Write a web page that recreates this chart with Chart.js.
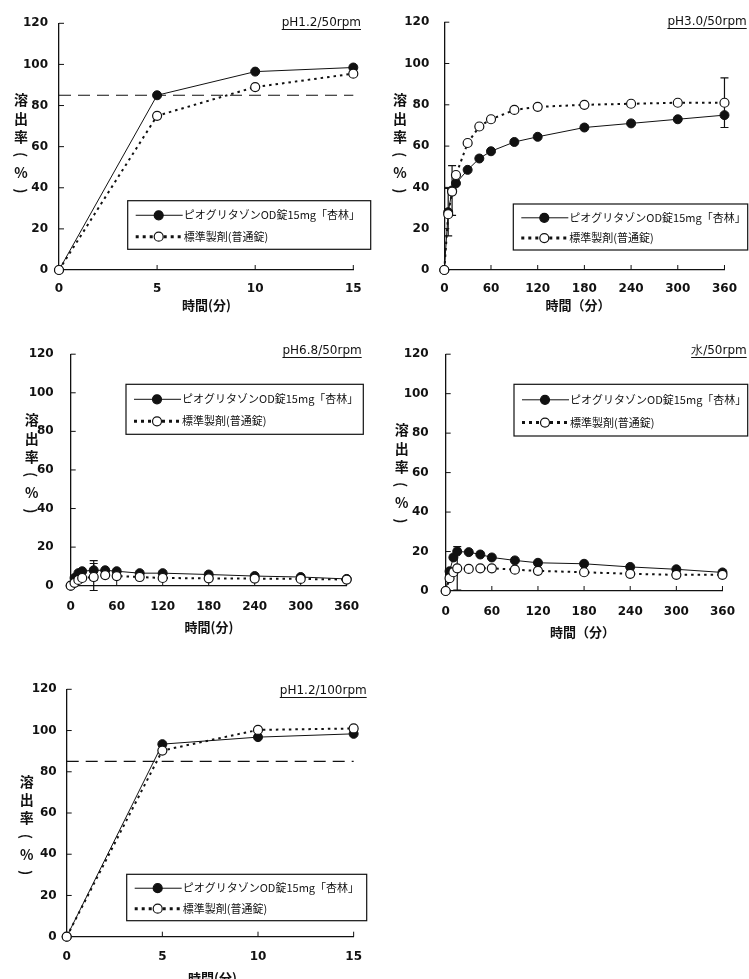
<!DOCTYPE html>
<html>
<head>
<meta charset="utf-8">
<script src="https://cdn.jsdelivr.net/npm/chart.js@4/dist/chart.umd.min.js"></script>
<style>
body { margin: 0; background: #fff; width: 749px; height: 979px; position: relative; overflow: hidden; }
canvas { position: absolute; }
</style>
</head>
<body>
<canvas id="c1" width="375" height="320" style="left:0;top:0"></canvas>
<canvas id="c2" width="374" height="320" style="left:375px;top:0"></canvas>
<canvas id="c3" width="375" height="310" style="left:0;top:330px"></canvas>
<canvas id="c4" width="374" height="310" style="left:375px;top:330px"></canvas>
<canvas id="c5" width="375" height="319" style="left:0;top:660px"></canvas>
<script>
// data
const seriesNames = ['ピオグリタゾンOD錠15mg「杏林」', '標準製剤(普通錠)'];
const timeShort = [0, 5, 10, 15];
const timeLong = [0, 5, 10, 15, 30, 45, 60, 90, 120, 180, 240, 300, 360];
const yTicks = [0, 20, 40, 60, 80, 100, 120];
const limitLine = 85;

const ph12_50_test = [0, 85, 96.5, 98.5];
const ph12_50_ref = [0, 75, 89, 95.5];

const ph30_test = [0, 28, 38.5, 42, 48.5, 54, 57.5, 62, 64.5, 69, 71, 73, 75];
const ph30_ref = [0, 27, 38, 46, 61.5, 69.5, 73, 77.5, 79, 80, 80.5, 81, 81];
const ph30_testErr = [0, 11.5, 12, 0, 0, 0, 0, 0, 0, 0, 0, 0, 0];
const ph30_refErr = [0, 0, 0, 0, 0, 0, 0, 0, 0, 0, 0, 0, 12];

const ph68_test = [0, 4, 6.5, 7.5, 8, 8, 7.5, 6.5, 6.5, 5.8, 5, 4.5, 3.5];
const ph68_ref = [0, 1.5, 3, 4, 4.5, 5.5, 5, 4.5, 4, 3.8, 3.7, 3.5, 3.2];
const ph68_testErr = [0, 0, 0, 0, 5, 0, 0, 0, 0, 0, 0, 0, 0];
const ph68_refErr = [0, 0, 0, 0, 7, 0, 0, 0, 0, 0, 0, 0, 0];

const water_test = [0, 10, 17, 20, 19.7, 18.5, 17, 15.5, 14.3, 13.8, 12.2, 11, 9.4];
const water_ref = [0, 6.5, 9.5, 11.5, 11.2, 11.5, 11.5, 10.8, 10.2, 9.5, 8.7, 8.2, 8.2];
const water_refErr = [0, 0, 0, 11, 0, 0, 0, 0, 0, 0, 0, 0, 0];

const ph12_100_test = [0, 93.4, 96.8, 98.4];
const ph12_100_ref = [0, 90.3, 100.3, 101];

Chart.defaults.font.family = '"DejaVu Sans", sans-serif';
Chart.defaults.color = '#111';

function testSet(xs, ys, errs) {
  return {
    label: seriesNames[0],
    data: xs.map((t, i) => ({ x: t, y: ys[i] })),
    borderColor: '#111', borderWidth: 1,
    pointRadius: 4.5, pointBackgroundColor: '#111', pointBorderColor: '#111', pointBorderWidth: 1,
    order: 1, errors: errs, legendDash: [], legendWidth: 1
  };
}
function refSet(xs, ys, errs) {
  return {
    label: seriesNames[1],
    data: xs.map((t, i) => ({ x: t, y: ys[i] })),
    borderColor: '#111', borderWidth: 2, borderDash: [2.5, 4],
    pointRadius: 4.5, pointBackgroundColor: '#fff', pointBorderColor: '#111', pointBorderWidth: 1.2,
    order: 0, errors: errs, legendDash: [3, 4], legendWidth: 3
  };
}
function limitSet(xmax) {
  return {
    label: 'limit',
    data: [{ x: 0, y: limitLine }, { x: xmax, y: limitLine }],
    borderColor: '#111', borderWidth: 1.2, borderDash: [12, 7],
    pointRadius: 0, order: 2, noLegend: true
  };
}

const decor = {
  id: 'decor',
  beforeDatasetsDraw(chart) {
    const ctx = chart.ctx, x = chart.scales.x, y = chart.scales.y;
    ctx.save();
    ctx.strokeStyle = '#111';
    ctx.lineWidth = 1;
    // inward tick marks
    ctx.beginPath();
    x.ticks.forEach(t => {
      if (t.value === 0) return;
      const px = x.getPixelForValue(t.value);
      ctx.moveTo(px, y.bottom); ctx.lineTo(px, y.bottom - 5);
    });
    y.ticks.forEach(t => {
      if (t.value === 0) return;
      const py = y.getPixelForValue(t.value);
      ctx.moveTo(x.left, py); ctx.lineTo(x.left + 5, py);
    });
    ctx.stroke();
    // error bars
    ctx.lineWidth = 1.2;
    chart.data.datasets.forEach(ds => {
      if (!ds.errors) return;
      ds.data.forEach((p, i) => {
        const e = ds.errors[i];
        if (!e) return;
        const px = x.getPixelForValue(p.x);
        const top = y.getPixelForValue(p.y + e), bot = y.getPixelForValue(p.y - e);
        ctx.beginPath();
        ctx.moveTo(px, top); ctx.lineTo(px, bot);
        ctx.moveTo(px - 4, top); ctx.lineTo(px + 4, top);
        ctx.moveTo(px - 4, bot); ctx.lineTo(px + 4, bot);
        ctx.stroke();
      });
    });
    ctx.restore();
  },
  afterDraw(chart, args, o) {
    const ctx = chart.ctx;
    ctx.save();
    ctx.fillStyle = '#111';
    ctx.strokeStyle = '#111';
    // panel title, underlined
    ctx.font = '12px "DejaVu Sans"';
    ctx.textAlign = 'right';
    ctx.textBaseline = 'middle';
    ctx.fillText(o.title, o.titleX, o.titleY);
    const w = ctx.measureText(o.title).width;
    ctx.lineWidth = 1;
    ctx.beginPath();
    ctx.moveTo(o.titleX - w, o.titleY + 6.5); ctx.lineTo(o.titleX, o.titleY + 6.5);
    ctx.stroke();
    // x title
    ctx.font = 'bold 13px "Noto Sans CJK JP"';
    ctx.textAlign = 'center';
    ctx.fillText(o.xTitle, o.xTitleX, o.xTitleY);
    // y title "溶出率(%)", stacked vertically, brackets turned
    ctx.font = 'bold 14px "Noto Sans CJK JP"';
    ['溶', '出', '率', '(', '%', ')'].forEach((ch, i) => {
      const cy = o.yTitleY + i * 18.2;
      if (ch === '(' || ch === ')') {
        ctx.save();
        ctx.translate(o.yTitleX, cy);
        ctx.rotate(Math.PI / 2);
        ctx.fillText(ch, 0, 0);
        ctx.restore();
      } else {
        ctx.fillText(ch, o.yTitleX, cy);
      }
    });
    // legend box
    const [bx, by, bw, bh] = o.legend;
    ctx.lineWidth = 1.2;
    ctx.strokeRect(bx, by, bw, bh);
    const rows = [by + bh * 0.3, by + bh * 0.74];
    chart.data.datasets.filter(d => !d.noLegend).forEach((ds, i) => {
      const ry = rows[i];
      ctx.save();
      ctx.lineWidth = ds.legendWidth;
      ctx.setLineDash(ds.legendDash);
      ctx.beginPath();
      ctx.moveTo(bx + 8, ry); ctx.lineTo(bx + 55, ry);
      ctx.stroke();
      ctx.restore();
      ctx.beginPath();
      ctx.arc(bx + 31, ry, 4.5, 0, Math.PI * 2);
      ctx.fillStyle = ds.pointBackgroundColor;
      ctx.fill();
      ctx.lineWidth = 1.2;
      ctx.stroke();
      ctx.fillStyle = '#111';
      ctx.font = '11px "Noto Sans CJK JP"';
      ctx.textAlign = 'left';
      ctx.fillText(ds.label, bx + 56, ry);
    });
    ctx.restore();
  }
};

function makePanel(id, cfg) {
  new Chart(document.getElementById(id), {
    type: 'line',
    data: { datasets: cfg.datasets },
    plugins: [decor],
    options: {
      responsive: false,
      animation: false,
      clip: false,
      layout: { padding: { left: 0, right: cfg.padRight, top: cfg.padTop, bottom: 0 } },
      plugins: { legend: { display: false }, tooltip: { enabled: false }, decor: cfg.decor },
      elements: { line: { tension: 0 } },
      scales: {
        x: {
          type: 'linear', min: 0, max: cfg.xmax,
          ticks: { stepSize: cfg.xstep, padding: cfg.xPad, font: { size: 12, weight: 'bold' }, color: '#111' },
          grid: { display: true, drawOnChartArea: false, drawTicks: false },
          border: { display: true, color: '#111', width: 1.3 },
          afterFit: s => { s.height = cfg.xHeight; }
        },
        y: {
          min: 0, max: 120,
          afterBuildTicks: s => { s.ticks = yTicks.map(v => ({ value: v })); },
          ticks: { padding: cfg.yPad, font: { size: 12, weight: 'bold' }, color: '#111' },
          grid: { display: true, drawOnChartArea: false, drawTicks: false },
          border: { display: true, color: '#111', width: 1.3 },
          afterFit: s => { s.width = cfg.yWidth; }
        }
      }
    }
  });
}

makePanel('c1', {
  datasets: [testSet(timeShort, ph12_50_test), refSet(timeShort, ph12_50_ref), limitSet(15)],
  xmax: 15, xstep: 5, padRight: 21.7, padTop: 23.3, xHeight: 50, yWidth: 59, yPad: 11, xPad: 12,
  decor: { title: 'pH1.2/50rpm', titleX: 361, titleY: 23, xTitle: '時間(分)', xTitleX: 206.5, xTitleY: 305,
    yTitleX: 21, yTitleY: 100, legend: [127.7, 200.7, 243, 48.6] }
});
makePanel('c2', {
  datasets: [testSet(timeLong, ph30_test, ph30_testErr), refSet(timeLong, ph30_ref, ph30_refErr)],
  xmax: 360, xstep: 60, padRight: 18, padTop: 22, xHeight: 50, yWidth: 69.3, yPad: 15, xPad: 12,
  decor: { title: 'pH3.0/50rpm', titleX: 371.7, titleY: 22, xTitle: '時間（分）', xTitleX: 203, xTitleY: 305,
    yTitleX: 25, yTitleY: 100, legend: [138.3, 204, 234.4, 46] }
});
makePanel('c3', {
  datasets: [testSet(timeLong, ph68_test, ph68_testErr), refSet(timeLong, ph68_ref, ph68_refErr)],
  xmax: 360, xstep: 60, padRight: 28.3, padTop: 20.7, xHeight: 54.3, yWidth: 70.7, yPad: 17, xPad: 14,
  decor: { title: 'pH6.8/50rpm', titleX: 361.7, titleY: 21, xTitle: '時間(分)', xTitleX: 209, xTitleY: 296.7,
    yTitleX: 31.7, yTitleY: 90, legend: [126, 54.3, 237.3, 50] }
});
makePanel('c4', {
  datasets: [testSet(timeLong, water_test), refSet(timeLong, water_ref, water_refErr)],
  xmax: 360, xstep: 60, padRight: 18, padTop: 20.7, xHeight: 49, yWidth: 70.7, yPad: 17, xPad: 14,
  decor: { title: '水/50rpm', titleX: 371.7, titleY: 21, xTitle: '時間（分）', xTitleX: 207.5, xTitleY: 301.7,
    yTitleX: 26.7, yTitleY: 100, legend: [139, 54.3, 233.7, 51.7] }
});
makePanel('c5', {
  datasets: [testSet(timeShort, ph12_100_test), refSet(timeShort, ph12_100_ref), limitSet(15)],
  xmax: 15, xstep: 5, padRight: 17.7, padTop: 29.3, xHeight: 42.3, yWidth: 66.7, yPad: 10, xPad: 13,
  decor: { title: 'pH1.2/100rpm', titleX: 366.7, titleY: 31, xTitle: '時間(分)', xTitleX: 212.5, xTitleY: 318,
    yTitleX: 26.7, yTitleY: 121.7, legend: [126.7, 214.3, 240, 46.4] }
});
</script>
</body>
</html>
